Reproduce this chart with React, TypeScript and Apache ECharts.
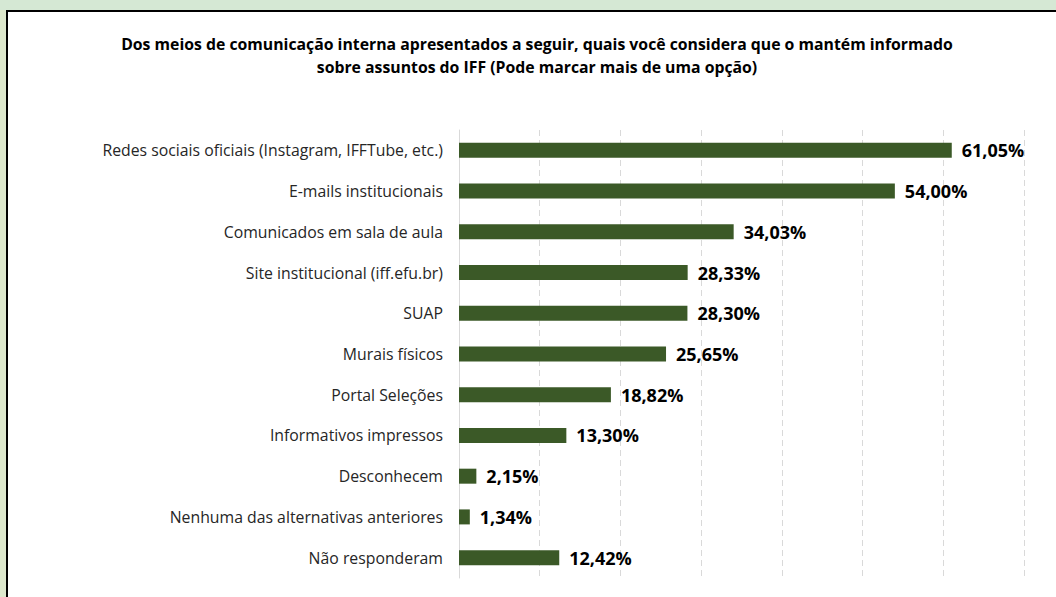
import React, { useEffect, useRef } from "react";
import * as echarts from "echarts";

const categories = [
  "Redes sociais oficiais (Instagram, IFFTube, etc.)",
  "E-mails institucionais",
  "Comunicados em sala de aula",
  "Site institucional (iff.efu.br)",
  "SUAP",
  "Murais físicos",
  "Portal Seleções",
  "Informativos impressos",
  "Desconhecem",
  "Nenhuma das alternativas anteriores",
  "Não responderam",
];
const values = [61.05, 54.0, 34.03, 28.33, 28.3, 25.65, 18.82, 13.3, 2.15, 1.34, 12.42];
const titleLines = [
  "Dos meios de comunicação interna apresentados a seguir, quais você considera que o mantém informado",
  "sobre assuntos do IFF (Pode marcar mais de uma opção)",
];

const FONT = "'Open Sans', 'Noto Sans', sans-serif";

export default function App() {
  const ref = useRef<HTMLDivElement>(null);
  useEffect(() => {
    if (!ref.current) return;
    const chart = echarts.init(ref.current, null, { renderer: "svg" });
    chart.setOption({
      animation: false,
      backgroundColor: "#d5e8d4",
      graphic: [
        { type: "rect", z: -10, shape: { x: 0, y: 10, width: 7, height: 600 }, style: { fill: "#dde8cc" } },
        {
          type: "rect",
          z: -5,
          shape: { x: 7, y: 11, width: 1060, height: 600 },
          style: { fill: "#ffffff", stroke: "#000000", lineWidth: 2 },
        },
        ...titleLines.map((t, i) => ({
          type: "text",
          z: 10,
          style: {
            text: t,
            x: 537,
            y: 44 + i * 23,
            fill: "#000000",
            font: `bold 15.8px ${FONT}`,
            align: "center",
            verticalAlign: "middle",
          },
        })),
      ],
      grid: { left: 459, right: 32, top: 130, bottom: 19, containLabel: false },
      xAxis: {
        type: "value",
        min: 0,
        max: 70,
        interval: 10,
        axisLabel: { show: false },
        axisLine: { show: false },
        axisTick: { show: false },
        splitLine: { show: true, lineStyle: { color: "#d9d9d9", type: [6, 4], width: 1 } },
      },
      yAxis: {
        type: "category",
        data: categories,
        inverse: true,
        axisLine: { show: true, lineStyle: { color: "#d9d9d9", width: 1 } },
        axisTick: { show: false },
        axisLabel: { margin: 16, color: "#262626", fontFamily: FONT, fontSize: 15.8 },
      },
      series: [
        {
          type: "bar",
          data: values,
          barWidth: 15,
          itemStyle: { color: "#3b5927" },
          label: {
            show: true,
            position: "right",
            distance: 10,
            color: "#000000",
            fontFamily: FONT,
            fontWeight: "bold",
            fontSize: 18,
            formatter: (p: any) => p.value.toFixed(2).replace(".", ",") + "%",
          },
        },
      ],
    });
    return () => chart.dispose();
  }, []);
  return (
    <div
      ref={ref}
      style={{ position: "fixed", left: 0, top: 0, width: 1056, height: 597 }}
    />
  );
}
